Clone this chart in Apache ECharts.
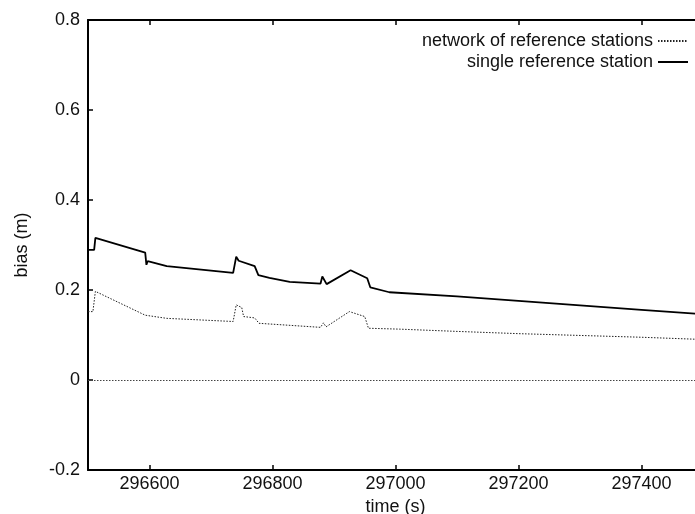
<!DOCTYPE html>
<html>
<head>
<meta charset="utf-8">
<script src="https://cdn.jsdelivr.net/npm/echarts@6/dist/echarts.min.js"></script>
<style>
html,body{margin:0;padding:0;background:#fff;}
#c{width:695px;height:514px;}
</style>
</head>
<body>
<div id="c"></div>
<script>
// time (s) and bias (m)
var singleTime = [296500, 296510, 296512, 296593, 296595, 296597, 296628, 296736, 296741, 296745, 296771, 296777, 296795, 296828, 296878, 296881, 296888, 296927, 296954, 296959, 296990, 297100, 297200, 297300, 297400, 297500];
var singleBias = [0.289, 0.289, 0.316, 0.283, 0.256, 0.264, 0.253, 0.238, 0.274, 0.265, 0.253, 0.233, 0.227, 0.218, 0.214, 0.230, 0.213, 0.244, 0.226, 0.206, 0.195, 0.186, 0.176, 0.166, 0.156, 0.146];

var networkTime = [296500, 296508, 296512, 296515, 296593, 296628, 296736, 296741, 296750, 296753, 296771, 296778, 296878, 296883, 296887, 296925, 296950, 296956, 297007, 297100, 297200, 297300, 297400, 297500];
var networkBias = [0.152, 0.152, 0.197, 0.195, 0.144, 0.137, 0.130, 0.167, 0.161, 0.141, 0.138, 0.126, 0.117, 0.127, 0.118, 0.152, 0.141, 0.115, 0.113, 0.108, 0.103, 0.099, 0.095, 0.090];

var xTicks = [296600, 296800, 297000, 297200, 297400];
var seriesNames = ['network of reference stations', 'single reference station'];

function pairs(t, v) { return t.map(function (x, i) { return [x, v[i]]; }); }

var FONT = 'Liberation Sans, Arial, sans-serif';
var FS = 18;

var chart = echarts.init(document.getElementById('c'), null, {renderer: 'canvas'});
chart.setOption({
  animation: false,
  backgroundColor: '#ffffff',
  grid: {left: 88, top: 20, width: 615, height: 450, containLabel: false, outerBoundsMode: 'none'},
  legend: {
    data: seriesNames,
    orient: 'vertical',
    right: 1,
    top: 27,
    align: 'right',
    itemWidth: 30,
    itemHeight: 10,
    itemGap: 3,
    itemStyle: {opacity: 0},
    lineStyle: {opacity: 1},
    textStyle: {fontFamily: FONT, fontSize: FS, color: '#111'},
    selectedMode: false
  },
  xAxis: [{
    type: 'value',
    min: 296500,
    max: 297500,
    position: 'bottom',
    name: 'time (s)',
    nameLocation: 'middle',
    nameGap: 27,
    nameTextStyle: {fontFamily: FONT, fontSize: FS, color: '#111'},
    axisLine: {show: true, onZero: false, lineStyle: {color: '#000', width: 2}},
    axisTick: {show: true, inside: true, length: 5, customValues: xTicks, lineStyle: {color: '#000', width: 1.5}},
    axisLabel: {show: true, customValues: xTicks, margin: 5, fontFamily: FONT, fontSize: FS, color: '#111',
      formatter: function (v) { return String(Math.round(v)); }},
    splitLine: {show: false}
  }, {
    type: 'value',
    min: 296500,
    max: 297500,
    position: 'top',
    axisLine: {show: true, onZero: false, lineStyle: {color: '#000', width: 2}},
    axisTick: {show: true, inside: true, length: 5, customValues: xTicks, lineStyle: {color: '#000', width: 1.5}},
    axisLabel: {show: false},
    splitLine: {show: false}
  }],
  yAxis: {
    type: 'value',
    min: -0.2,
    max: 0.8,
    interval: 0.2,
    name: 'bias (m)',
    nameLocation: 'middle',
    nameGap: 57,
    nameRotate: 90,
    nameTextStyle: {fontFamily: FONT, fontSize: FS, color: '#111'},
    axisLine: {show: true, onZero: false, lineStyle: {color: '#000', width: 2}},
    axisTick: {show: true, inside: true, length: 5, lineStyle: {color: '#000', width: 1.5}},
    axisLabel: {margin: 8, fontFamily: FONT, fontSize: FS, color: '#111'},
    splitLine: {show: false}
  },
  series: [{
    name: seriesNames[0],
    type: 'line',
    data: pairs(networkTime, networkBias),
    symbol: 'none',
    lineStyle: {color: '#222', width: 1, type: [1.5, 1.5]},
    itemStyle: {color: '#222'},
    markLine: {
      silent: true,
      symbol: 'none',
      label: {show: false},
      lineStyle: {color: '#444', width: 1, type: [1.5, 1.5]},
      data: [{yAxis: 0}]
    }
  }, {
    name: seriesNames[1],
    type: 'line',
    data: pairs(singleTime, singleBias),
    symbol: 'none',
    lineStyle: {color: '#000', width: 1.8, type: 'solid'},
    itemStyle: {color: '#000'}
  }]
});
</script>
</body>
</html>
